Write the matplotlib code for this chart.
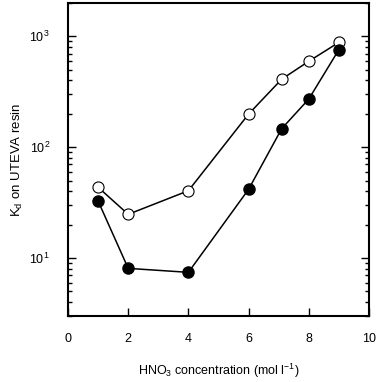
import numpy as np
import matplotlib
matplotlib.use("Agg")
import matplotlib.pyplot as plt
from matplotlib.ticker import LogLocator, NullFormatter

plt.rcParams['font.family'] = ['Liberation Sans', 'DejaVu Sans']
plt.rcParams['mathtext.fontset'] = 'custom'
plt.rcParams['mathtext.rm'] = 'Liberation Sans'
plt.rcParams['mathtext.it'] = 'Liberation Sans'

# HNO3 concentration (mol/l)
hno3 = [1, 2, 4, 6, 7.1, 8, 9]
# Kd values, open symbols
kd_open = [43.5, 24.8, 40.5, 199, 411, 596, 883]
# Kd values, filled symbols
kd_filled = [32.7, 8.07, 7.43, 41.7, 147, 272, 759]

fig = plt.figure(figsize=(3.8, 3.82), dpi=100)
ax = fig.add_axes([68 / 380, 1 - 316 / 382, 301 / 380, 313 / 382])

ax.plot(hno3, kd_open, '-o', color='black', lw=1.1, markersize=8,
        markerfacecolor='white', markeredgecolor='black', markeredgewidth=0.8, zorder=3)
ax.plot(hno3, kd_filled, '-o', color='black', lw=1.1, markersize=8,
        markerfacecolor='black', markeredgecolor='black', zorder=3)

ax.set_yscale('log')
ax.set_xlim(0, 10)
ax.set_ylim(3, 2000)
ax.set_xticks([0, 2, 4, 6, 8, 10])
ax.yaxis.set_major_locator(LogLocator(base=10, numticks=10))
ax.yaxis.set_minor_locator(LogLocator(base=10, subs=np.arange(2, 10), numticks=10))
ax.yaxis.set_minor_formatter(NullFormatter())

ax.tick_params(axis='x', which='both', direction='in', length=5.5, width=1,
               pad=12, labelsize=9)
ax.tick_params(axis='y', which='major', direction='in', length=6, width=1,
               left=True, right=True, pad=13, labelsize=9)
ax.tick_params(axis='y', which='minor', direction='in', length=3, width=1,
               left=True, right=True)

for s in ax.spines.values():
    s.set_linewidth(1.5)

ax.set_xlabel('HNO$_3$ concentration (mol l$^{-1}$)', fontsize=9, labelpad=12)
ax.set_ylabel('K$_d$ on UTEVA resin', fontsize=9.5, labelpad=3)

fig.savefig('out.png', dpi=100)
